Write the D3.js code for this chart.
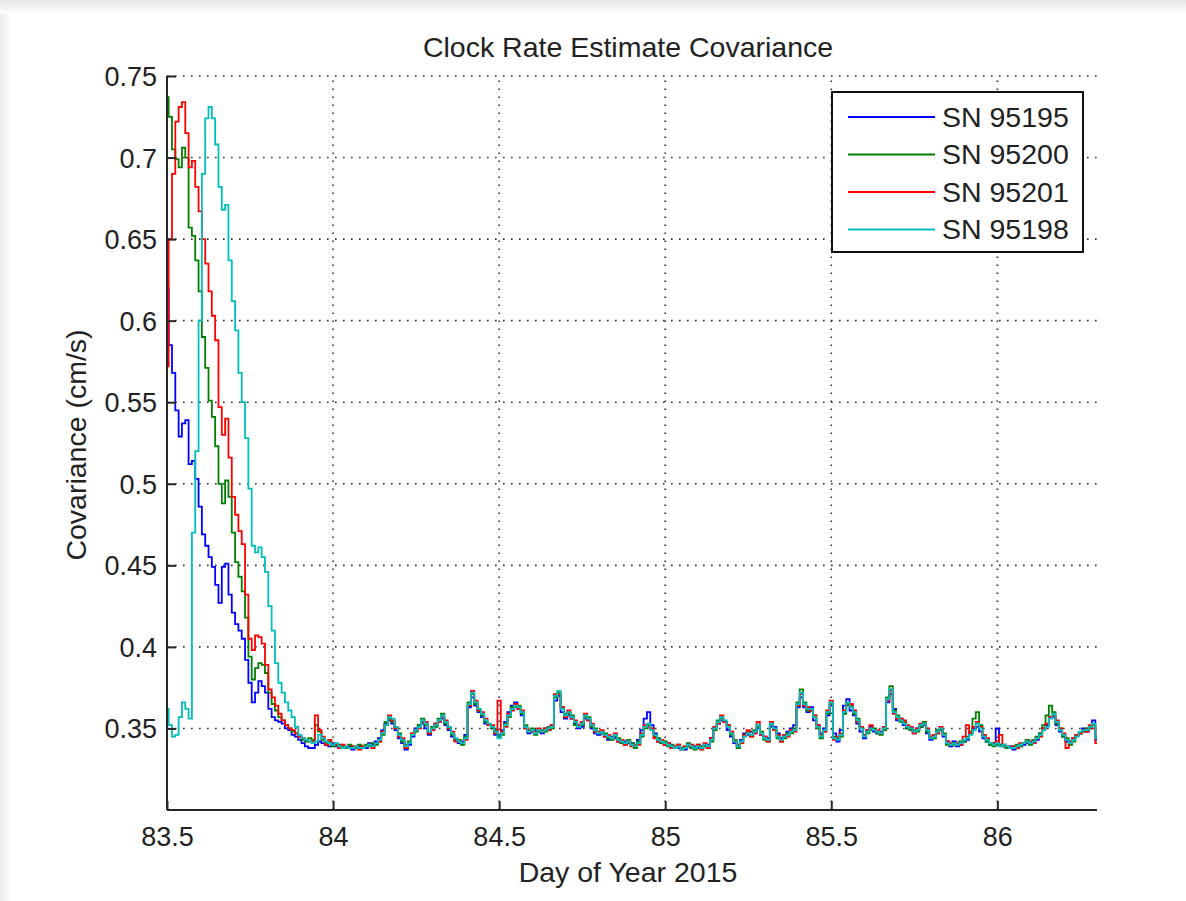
<!DOCTYPE html>
<html>
<head>
<meta charset="utf-8">
<script src="https://cdn.jsdelivr.net/npm/d3@7"></script>
<style>
  html, body { margin: 0; padding: 0; background: #fff; }
  svg { display: block; }
  text { font-family: "Liberation Sans", Arial, sans-serif; fill: #222; }
</style>
</head>
<body>
<svg id="chart" width="1186" height="901"></svg>
<script>
// Sampling of the covariance estimates: one value every 0.01 day starting at day 83.50
const dayStart = 83.5;
const dayStep = 0.01;

const seriesNames = ["SN 95195", "SN 95200", "SN 95201", "SN 95198"];
const seriesColors = ["#0000ff", "#008000", "#ff0000", "#00bfbf"];

const xTicks = [83.5, 84, 84.5, 85, 85.5, 86];
const yTicks = [0.35, 0.4, 0.45, 0.5, 0.55, 0.6, 0.65, 0.7, 0.75];

const sn95195 = [
  0.620, 0.585, 0.568, 0.545, 0.529, 0.537, 0.539, 0.512, 0.514, 0.503,
  0.486, 0.469, 0.462, 0.455, 0.449, 0.438, 0.427, 0.449, 0.451, 0.432,
  0.421, 0.414, 0.410, 0.405, 0.392, 0.378, 0.366, 0.372, 0.379, 0.376,
  0.372, 0.362, 0.357, 0.355, 0.354, 0.353, 0.350, 0.349, 0.346, 0.345,
  0.343, 0.341, 0.339, 0.338,
  0.338, 0.340, 0.342, 0.341, 0.340, 0.339,
  0.341, 0.339, 0.338, 0.339, 0.338, 0.339, 0.337, 0.338, 0.339, 0.338,
  0.338, 0.341, 0.340, 0.342, 0.344, 0.349, 0.353, 0.355, 0.353, 0.349,
  0.344, 0.341, 0.337, 0.340, 0.345, 0.350, 0.352, 0.353, 0.350, 0.346,
  0.349, 0.353, 0.354, 0.356, 0.352, 0.349, 0.345, 0.343, 0.341, 0.342,
  0.346, 0.363, 0.369, 0.364, 0.360, 0.357, 0.353, 0.352, 0.350, 0.346,
  0.346, 0.349, 0.354, 0.360, 0.364, 0.366, 0.362, 0.358, 0.350, 0.347,
  0.348, 0.349, 0.348, 0.347, 0.350, 0.349, 0.352, 0.367, 0.370, 0.360,
  0.356, 0.358, 0.356, 0.353, 0.350, 0.351, 0.356, 0.355, 0.350, 0.347,
  0.346, 0.347, 0.345, 0.343, 0.345, 0.344, 0.342, 0.341, 0.342, 0.341,
  0.341, 0.340, 0.343, 0.349, 0.356, 0.360, 0.352, 0.347, 0.342, 0.341,
  0.340, 0.341, 0.338, 0.339, 0.338, 0.338, 0.337, 0.339, 0.338, 0.339,
  0.338, 0.339, 0.339, 0.340, 0.344, 0.351, 0.353, 0.355, 0.354, 0.349,
  0.345, 0.341, 0.340, 0.343, 0.347, 0.346, 0.348, 0.347, 0.350, 0.346,
  0.345, 0.344, 0.351, 0.351, 0.347, 0.344, 0.346, 0.348, 0.350, 0.352,
  0.363, 0.369, 0.363, 0.360, 0.363, 0.355, 0.352, 0.347, 0.350, 0.358,
  0.364, 0.347, 0.342, 0.349, 0.364, 0.368, 0.361, 0.358, 0.353, 0.348,
  0.344, 0.349, 0.351, 0.348, 0.347, 0.348, 0.351, 0.366, 0.371, 0.362,
  0.355, 0.356, 0.352, 0.350, 0.351, 0.347, 0.350, 0.351, 0.352, 0.347,
  0.343, 0.346, 0.347, 0.349, 0.345, 0.342, 0.339, 0.342, 0.339, 0.340,
  0.342, 0.343, 0.347, 0.350, 0.351, 0.348, 0.344, 0.342, 0.340, 0.341,
  0.350, 0.340, 0.339, 0.338, 0.339, 0.337, 0.338, 0.339, 0.340, 0.341,
  0.342, 0.341, 0.343, 0.347, 0.350, 0.352, 0.357, 0.357, 0.352, 0.348,
  0.345, 0.342, 0.342, 0.344, 0.346, 0.347, 0.350, 0.348, 0.350, 0.355,
  0.343
];

const sn95200 = [
  0.737, 0.725, 0.705, 0.699, 0.694, 0.706, 0.700, 0.657, 0.652, 0.637,
  0.618, 0.590, 0.571, 0.551, 0.541, 0.523, 0.500, 0.488, 0.502, 0.492,
  0.470, 0.452, 0.443, 0.434, 0.418, 0.394, 0.380, 0.387, 0.390, 0.389,
  0.384, 0.372, 0.365, 0.361, 0.357, 0.355, 0.352, 0.350, 0.348, 0.347,
  0.345, 0.343, 0.342, 0.344,
  0.343, 0.352, 0.348, 0.343, 0.341, 0.342,
  0.339, 0.340, 0.340, 0.339, 0.338, 0.340, 0.339, 0.338, 0.340, 0.339,
  0.340, 0.339, 0.341, 0.340, 0.342, 0.346, 0.354, 0.356, 0.354, 0.350,
  0.347, 0.342, 0.340, 0.342, 0.347, 0.348, 0.352, 0.356, 0.352, 0.347,
  0.351, 0.351, 0.356, 0.359, 0.353, 0.350, 0.346, 0.343, 0.343, 0.340,
  0.345, 0.366, 0.371, 0.365, 0.361, 0.358, 0.354, 0.352, 0.350, 0.349,
  0.345, 0.346, 0.353, 0.357, 0.363, 0.363, 0.364, 0.359, 0.352, 0.349,
  0.350, 0.346, 0.348, 0.349, 0.348, 0.351, 0.350, 0.369, 0.372, 0.363,
  0.359, 0.359, 0.358, 0.352, 0.352, 0.352, 0.357, 0.357, 0.351, 0.350,
  0.348, 0.347, 0.347, 0.344, 0.343, 0.345, 0.344, 0.341, 0.340, 0.343,
  0.341, 0.338, 0.342, 0.345, 0.350, 0.352, 0.350, 0.345, 0.344, 0.341,
  0.342, 0.339, 0.340, 0.338, 0.340, 0.338, 0.339, 0.341, 0.338, 0.337,
  0.340, 0.339, 0.339, 0.338, 0.342, 0.349, 0.355, 0.356, 0.354, 0.352,
  0.346, 0.343, 0.338, 0.341, 0.346, 0.348, 0.345, 0.349, 0.351, 0.348,
  0.343, 0.342, 0.352, 0.349, 0.344, 0.342, 0.344, 0.347, 0.347, 0.350,
  0.366, 0.374, 0.366, 0.361, 0.361, 0.358, 0.350, 0.344, 0.348, 0.359,
  0.365, 0.345, 0.344, 0.345, 0.359, 0.365, 0.364, 0.359, 0.356, 0.351,
  0.346, 0.347, 0.349, 0.350, 0.347, 0.346, 0.349, 0.369, 0.376, 0.361,
  0.358, 0.354, 0.354, 0.350, 0.349, 0.349, 0.348, 0.351, 0.354, 0.348,
  0.345, 0.344, 0.349, 0.349, 0.347, 0.340, 0.341, 0.340, 0.341, 0.342,
  0.342, 0.345, 0.348, 0.356, 0.360, 0.352, 0.346, 0.342, 0.340, 0.339,
  0.340, 0.340, 0.339, 0.338, 0.338, 0.339, 0.340, 0.339, 0.341, 0.343,
  0.340, 0.343, 0.345, 0.347, 0.352, 0.358, 0.364, 0.360, 0.353, 0.350,
  0.345, 0.344, 0.340, 0.342, 0.346, 0.347, 0.348, 0.350, 0.350, 0.352,
  0.345
];

const sn95201 = [
  0.572, 0.650, 0.690, 0.722, 0.731, 0.734, 0.715, 0.694, 0.698, 0.682,
  0.667, 0.650, 0.635, 0.618, 0.603, 0.588, 0.547, 0.530, 0.540, 0.516,
  0.492, 0.481, 0.471, 0.463, 0.432, 0.405, 0.398, 0.407, 0.406, 0.402,
  0.389, 0.374, 0.369, 0.364, 0.359, 0.355, 0.352, 0.350, 0.349, 0.347,
  0.345, 0.344, 0.343, 0.342,
  0.342, 0.358, 0.349, 0.345, 0.340, 0.343,
  0.340, 0.340, 0.338, 0.340, 0.339, 0.338, 0.339, 0.339, 0.337, 0.339,
  0.339, 0.340, 0.338, 0.341, 0.342, 0.348, 0.352, 0.358, 0.355, 0.350,
  0.345, 0.344, 0.338, 0.341, 0.347, 0.349, 0.350, 0.354, 0.354, 0.347,
  0.349, 0.353, 0.354, 0.357, 0.355, 0.350, 0.348, 0.342, 0.342, 0.341,
  0.343, 0.364, 0.373, 0.367, 0.361, 0.360, 0.356, 0.352, 0.352, 0.347,
  0.367, 0.348, 0.351, 0.359, 0.361, 0.365, 0.362, 0.361, 0.350, 0.349,
  0.348, 0.348, 0.350, 0.348, 0.350, 0.349, 0.352, 0.371, 0.371, 0.363,
  0.357, 0.361, 0.356, 0.355, 0.352, 0.354, 0.359, 0.355, 0.353, 0.348,
  0.348, 0.349, 0.345, 0.346, 0.344, 0.347, 0.342, 0.343, 0.340, 0.342,
  0.339, 0.340, 0.340, 0.347, 0.352, 0.351, 0.350, 0.344, 0.342, 0.343,
  0.340, 0.341, 0.338, 0.339, 0.340, 0.337, 0.339, 0.339, 0.340, 0.338,
  0.340, 0.337, 0.341, 0.338, 0.344, 0.351, 0.353, 0.358, 0.354, 0.352,
  0.348, 0.342, 0.340, 0.341, 0.346, 0.349, 0.345, 0.347, 0.354, 0.346,
  0.345, 0.342, 0.354, 0.349, 0.346, 0.342, 0.346, 0.345, 0.349, 0.348,
  0.364, 0.371, 0.364, 0.363, 0.361, 0.358, 0.352, 0.346, 0.348, 0.361,
  0.367, 0.343, 0.345, 0.347, 0.361, 0.364, 0.365, 0.361, 0.354, 0.351,
  0.346, 0.349, 0.352, 0.349, 0.349, 0.347, 0.351, 0.367, 0.373, 0.359,
  0.356, 0.356, 0.355, 0.352, 0.351, 0.347, 0.350, 0.353, 0.353, 0.350,
  0.345, 0.346, 0.347, 0.351, 0.346, 0.342, 0.341, 0.341, 0.341, 0.340,
  0.345, 0.352, 0.347, 0.351, 0.354, 0.351, 0.346, 0.344, 0.341, 0.341,
  0.342, 0.346, 0.340, 0.339, 0.338, 0.339, 0.338, 0.341, 0.341, 0.342,
  0.342, 0.341, 0.344, 0.345, 0.350, 0.353, 0.357, 0.358, 0.355, 0.350,
  0.347, 0.338, 0.342, 0.344, 0.346, 0.347, 0.349, 0.348, 0.352, 0.350,
  0.341
];

const sn95198 = [
  0.362, 0.352, 0.345, 0.346, 0.357, 0.366, 0.362, 0.356, 0.470, 0.520,
  0.600, 0.690, 0.724, 0.731, 0.724, 0.708, 0.682, 0.668, 0.671, 0.637,
  0.612, 0.594, 0.568, 0.550, 0.528, 0.497, 0.462, 0.458, 0.461, 0.455,
  0.446, 0.425, 0.410, 0.390, 0.378, 0.372, 0.366, 0.361, 0.357, 0.351,
  0.346, 0.344, 0.343, 0.342,
  0.341, 0.342, 0.346, 0.344, 0.342, 0.341,
  0.340, 0.341, 0.339, 0.338, 0.339, 0.338, 0.338, 0.339, 0.338, 0.338,
  0.339, 0.340, 0.339, 0.341, 0.343, 0.347, 0.352, 0.357, 0.356, 0.351,
  0.346, 0.343, 0.339, 0.341, 0.346, 0.349, 0.351, 0.355, 0.353, 0.348,
  0.350, 0.352, 0.355, 0.358, 0.354, 0.351, 0.347, 0.344, 0.342, 0.341,
  0.344, 0.365, 0.372, 0.366, 0.362, 0.359, 0.355, 0.353, 0.351, 0.348,
  0.344, 0.347, 0.352, 0.358, 0.362, 0.364, 0.363, 0.360, 0.351, 0.348,
  0.349, 0.347, 0.349, 0.348, 0.349, 0.350, 0.351, 0.370, 0.373, 0.362,
  0.358, 0.360, 0.357, 0.354, 0.351, 0.353, 0.358, 0.356, 0.352, 0.349,
  0.347, 0.348, 0.346, 0.345, 0.344, 0.346, 0.343, 0.342, 0.341, 0.342,
  0.340, 0.339, 0.341, 0.346, 0.351, 0.353, 0.349, 0.346, 0.343, 0.342,
  0.341, 0.340, 0.339, 0.338, 0.339, 0.337, 0.338, 0.340, 0.339, 0.338,
  0.339, 0.338, 0.340, 0.339, 0.343, 0.350, 0.354, 0.357, 0.355, 0.351,
  0.347, 0.342, 0.339, 0.342, 0.345, 0.347, 0.346, 0.348, 0.352, 0.347,
  0.344, 0.343, 0.353, 0.350, 0.345, 0.343, 0.345, 0.346, 0.348, 0.349,
  0.365, 0.372, 0.365, 0.362, 0.362, 0.357, 0.351, 0.345, 0.349, 0.360,
  0.366, 0.344, 0.343, 0.346, 0.360, 0.366, 0.363, 0.360, 0.355, 0.350,
  0.345, 0.348, 0.350, 0.349, 0.348, 0.347, 0.350, 0.368, 0.374, 0.360,
  0.357, 0.355, 0.353, 0.351, 0.350, 0.348, 0.349, 0.352, 0.353, 0.349,
  0.344, 0.345, 0.348, 0.350, 0.346, 0.341, 0.340, 0.341, 0.340, 0.341,
  0.343, 0.344, 0.346, 0.349, 0.353, 0.350, 0.345, 0.343, 0.341, 0.340,
  0.341, 0.339, 0.340, 0.339, 0.338, 0.338, 0.339, 0.340, 0.341, 0.342,
  0.341, 0.342, 0.344, 0.346, 0.349, 0.351, 0.356, 0.359, 0.354, 0.349,
  0.346, 0.343, 0.341, 0.343, 0.345, 0.348, 0.349, 0.349, 0.351, 0.353,
  0.344
];

const seriesValues = [sn95195, sn95200, sn95201, sn95198];

// ---- layout ----
const svg = d3.select("#chart");
const W = 1186, H = 901;
const plot = { left: 167, right: 1097, top: 76, bottom: 810 };
const TICK_FONT = 27;
const LABEL_FONT = 28.5;

// window-frame shading along the top and left edges
const defs = svg.append("defs");
const topGrad = defs.append("linearGradient").attr("id", "topShade")
  .attr("x1", 0).attr("y1", 0).attr("x2", 0).attr("y2", 1);
topGrad.append("stop").attr("offset", "0%").attr("stop-color", "#e6e6e6");
topGrad.append("stop").attr("offset", "100%").attr("stop-color", "#ffffff");
const leftGrad = defs.append("linearGradient").attr("id", "leftShade")
  .attr("x1", 0).attr("y1", 0).attr("x2", 1).attr("y2", 0);
leftGrad.append("stop").attr("offset", "0%").attr("stop-color", "#ececec");
leftGrad.append("stop").attr("offset", "100%").attr("stop-color", "#ffffff");
svg.append("rect").attr("width", W).attr("height", H).attr("fill", "#fff");
svg.append("rect").attr("x", 0).attr("y", 0).attr("width", W).attr("height", 14).attr("fill", "url(#topShade)");
svg.append("rect").attr("x", 0).attr("y", 14).attr("width", 12).attr("height", H - 14).attr("fill", "url(#leftShade)");

const x = d3.scaleLinear().domain([83.5, 86.3]).range([plot.left, plot.right]);
const y = d3.scaleLinear().domain([0.3, 0.75]).range([plot.bottom, plot.top]);

// ---- grid (dotted) ----
const grid = svg.append("g").attr("stroke", "#333").attr("stroke-width", 1.6)
  .attr("stroke-dasharray", "1.6,6.4");
grid.selectAll("line.h").data(yTicks).join("line").attr("class", "h")
  .attr("x1", plot.left).attr("x2", plot.right)
  .attr("y1", d => y(d)).attr("y2", d => y(d));
grid.selectAll("line.v").data(xTicks.filter(d => d > 83.5)).join("line").attr("class", "v")
  .attr("y1", plot.bottom).attr("y2", plot.top)
  .attr("x1", d => x(d)).attr("x2", d => x(d));

// ---- series (stair-stepped between samples) ----
const line = d3.line()
  .curve(d3.curveStep)
  .x((d, i) => x(dayStart + i * dayStep))
  .y(d => y(d));
const linesG = svg.append("g").attr("fill", "none");
seriesValues.forEach((vals, k) => {
  linesG.append("path")
    .attr("d", line(vals))
    .attr("stroke", seriesColors[k])
    .attr("stroke-width", 1.8)
    .attr("stroke-linejoin", "miter");
});

// ---- axes ----
const xAxis = d3.axisBottom(x).tickValues(xTicks).tickSizeInner(-9).tickSizeOuter(0)
  .tickPadding(17).tickFormat(d3.format("~g"));
const yAxis = d3.axisLeft(y).tickValues(yTicks).tickSizeInner(-9).tickSizeOuter(0)
  .tickPadding(10).tickFormat(d3.format("~g"));

const gx = svg.append("g").attr("transform", `translate(0,${plot.bottom})`).call(xAxis);
const gy = svg.append("g").attr("transform", `translate(${plot.left},0)`).call(yAxis);
[gx, gy].forEach(g => {
  g.select(".domain").attr("stroke", "#262626").attr("stroke-width", 2);
  g.selectAll(".tick line").attr("stroke", "#262626").attr("stroke-width", 2);
  g.selectAll(".tick text").attr("font-size", TICK_FONT)
    .attr("font-family", "Liberation Sans, Arial, sans-serif").attr("fill", "#222");
});
gx.selectAll(".tick text").attr("dy", "0.71em");
gy.selectAll(".tick text").attr("dy", "0.35em");
// bottom axis spans the whole plot width, left axis the whole height
gx.select(".domain").attr("d", `M${plot.left},0H${plot.right}`);
gy.select(".domain").attr("d", `M0,${plot.bottom}V${plot.top}`);

// ---- titles ----
svg.append("text").attr("x", 628).attr("y", 57).attr("text-anchor", "middle")
  .attr("font-size", LABEL_FONT).text("Clock Rate Estimate Covariance");
svg.append("text").attr("x", 628).attr("y", 882).attr("text-anchor", "middle")
  .attr("font-size", LABEL_FONT).text("Day of Year 2015");
svg.append("text").attr("transform", "translate(86,445) rotate(-90)")
  .attr("text-anchor", "middle").attr("font-size", LABEL_FONT).text("Covariance (cm/s)");

// ---- legend ----
const legend = svg.append("g").attr("transform", "translate(832,92)");
legend.append("rect").attr("width", 251).attr("height", 160)
  .attr("fill", "#fff").attr("stroke", "#111").attr("stroke-width", 2);
seriesNames.forEach((name, k) => {
  const row = legend.append("g").attr("transform", `translate(0,${25 + k * 37.5})`);
  row.append("line").attr("x1", 16).attr("x2", 103).attr("y1", 0).attr("y2", 0)
    .attr("stroke", seriesColors[k]).attr("stroke-width", 1.8);
  row.append("text").attr("x", 110).attr("y", 0).attr("dy", "0.35em")
    .attr("font-size", LABEL_FONT).text(name);
});
</script>
</body>
</html>
